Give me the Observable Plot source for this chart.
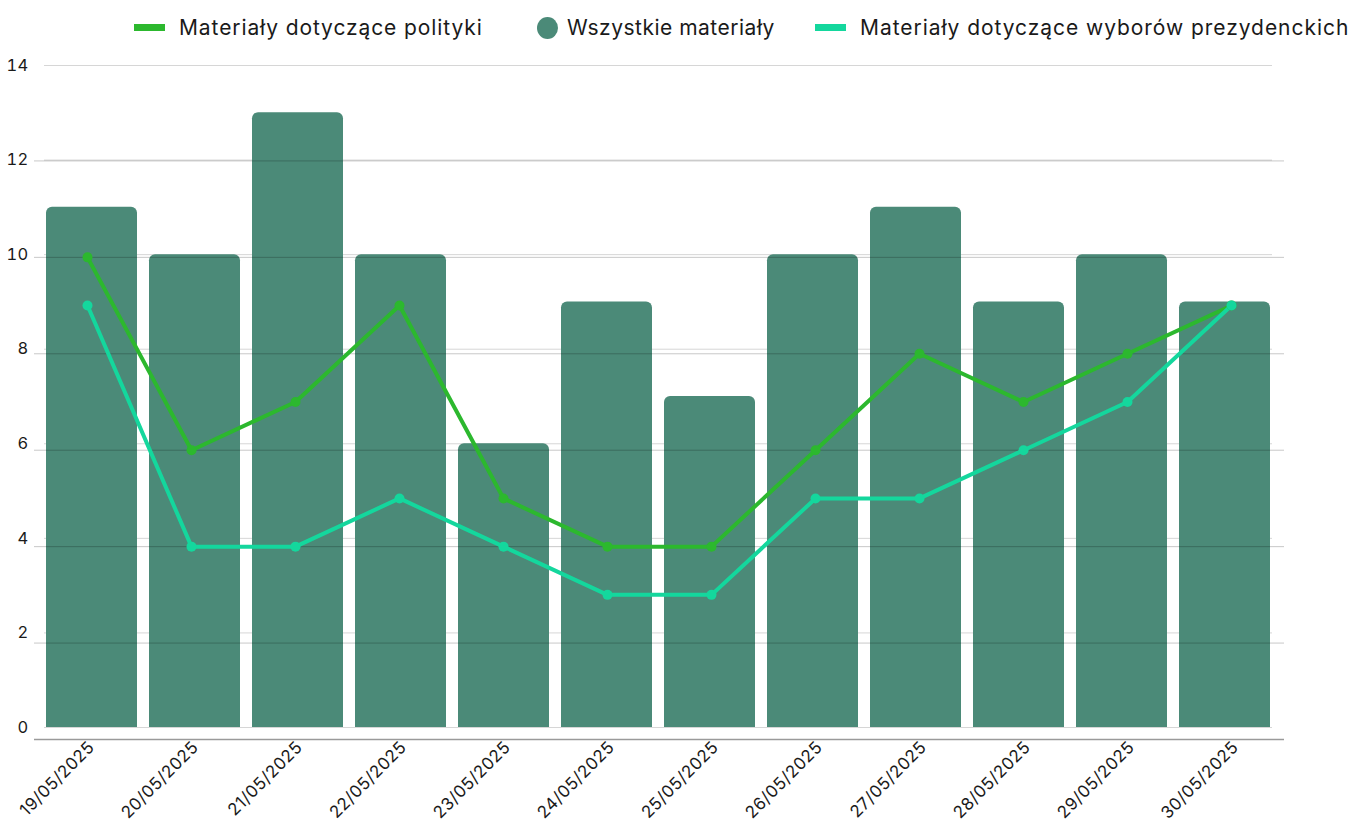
<!DOCTYPE html>
<html>
<head>
<meta charset="utf-8">
<script src="https://cdn.jsdelivr.net/npm/d3@7"></script>
<script src="https://cdn.jsdelivr.net/npm/@observablehq/plot@0.6"></script>
<style>
  html, body { margin: 0; padding: 0; background: #fff; }
  #wrap { position: relative; width: 1352px; height: 825px; font-family: Inter, "Noto Sans", sans-serif; color: #1a1a1a; }
  #wrap svg { position: absolute; left: 0; top: 0; }
  .leg { position: absolute; top: 15px; display: flex; align-items: center; font-size: 21px; letter-spacing: 0.9px; white-space: nowrap; }
  .sw-line { width: 31px; height: 7px; margin-right: 14px; }
  .sw-dot { width: 21px; height: 22px; border-radius: 50%; margin-right: 9px; }
</style>
</head>
<body>
<div id="wrap">
  <div class="leg" style="left:134px"><span class="sw-line" style="background:#2cb82e"></span><span>Materiały dotyczące polityki</span></div>
  <div class="leg" style="left:537px"><span class="sw-dot" style="background:#4b8a78"></span><span style="letter-spacing:0.5px">Wszystkie materiały</span></div>
  <div class="leg" style="left:815px"><span class="sw-line" style="background:#14d79d"></span><span style="letter-spacing:0.95px">Materiały dotyczące wyborów prezydenckich</span></div>
</div>
<script>
const dates = ["19/05/2025","20/05/2025","21/05/2025","22/05/2025","23/05/2025","24/05/2025","25/05/2025","26/05/2025","27/05/2025","28/05/2025","29/05/2025","30/05/2025"];
const allMaterials = [11,10,13,10,6,9,7,10,11,9,10,9];
const politics = [10,6,7,9,5,4,4,6,8,7,8,9];
const presidential = [9,4,4,5,4,3,3,5,5,6,7,9];
const yTicks = [0,2,4,6,8,10,12,14];

const barData = dates.map((d, i) => ({date: d, value: allMaterials[i]}));
const lineData = [
  ...dates.map((d, i) => ({date: d, value: politics[i], series: "Materiały dotyczące polityki"})),
  ...dates.map((d, i) => ({date: d, value: presidential[i], series: "Materiały dotyczące wyborów prezydenckich"}))
];
const colors = {"Materiały dotyczące polityki": "#2cb82e", "Materiały dotyczące wyborów prezydenckich": "#14d79d"};

const W = 1352, H = 825;
const font = "Inter, 'Noto Sans', sans-serif";

const barPlot = Plot.plot({
  width: W, height: H,
  marginTop: 65, marginBottom: 98, marginLeft: 44, marginRight: 80,
  style: {background: "transparent", fontFamily: font, fontSize: "16px", color: "#1a1a1a", letterSpacing: "0.3px"},
  x: {domain: dates, type: "band", paddingInner: 0.115, paddingOuter: 0, axis: null},
  y: {domain: [0, 14], ticks: yTicks},
  marks: [
    Plot.gridY(yTicks, {stroke: "#d6d6d6", strokeOpacity: 1, strokeWidth: 1}),
    Plot.barY(barData, {x: "date", y: "value", fill: "#4b8a78", ry1: 6}),
    Plot.axisY(yTicks, {tickSize: 0, tickPadding: 16, label: null, fontSize: 16.5, fill: "#1a1a1a"})
  ]
});

const linePlot = Plot.plot({
  width: W, height: H,
  marginTop: 64, marginBottom: 86, marginLeft: 34, marginRight: 68,
  style: {background: "transparent", fontFamily: font, fontSize: "16px", color: "#1a1a1a", letterSpacing: "0.45px"},
  x: {domain: dates, type: "point", padding: 0.5},
  y: {domain: [0, 14], axis: null},
  marks: [
    Plot.gridY([2,4,6,8,10,12], {stroke: "#000", strokeOpacity: 0.22, strokeWidth: 1}),
    Plot.ruleY([0], {stroke: "#9a9a9a", strokeWidth: 1.5}),
    Plot.line(lineData, {x: "date", y: "value", z: "series", stroke: d => colors[d.series], strokeWidth: 4, strokeLinejoin: "round"}),
    Plot.dot(lineData, {x: "date", y: "value", fill: d => colors[d.series], r: 5}),
    Plot.axisX(dates, {tickSize: 0, tickRotate: -45, tickPadding: 5, dx: 4, label: null, fontSize: 17, fill: "#1a1a1a"})
  ]
});

const wrap = document.getElementById("wrap");
wrap.appendChild(barPlot);
wrap.appendChild(linePlot);
</script>
</body>
</html>
